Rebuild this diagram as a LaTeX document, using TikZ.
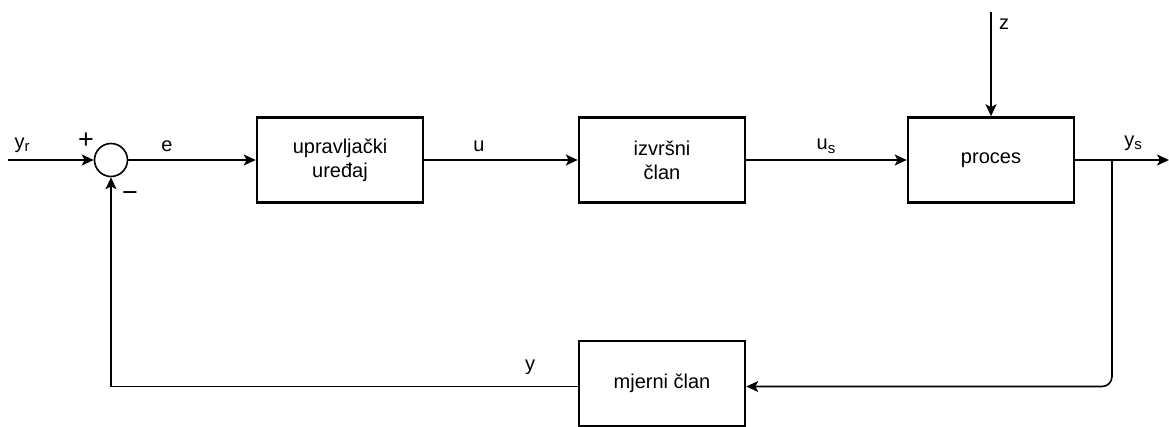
\documentclass[tikz,border=0pt]{standalone}
\usepackage{fontspec}
\setmainfont{Liberation Sans}
\usetikzlibrary{arrows.meta}
\newcommand{\lowidx}[2]{#1\raisebox{-0.35ex}{\fontsize{15}{15}\selectfont #2}}
\begin{document}
\begin{tikzpicture}[x=1pt,y=-1pt,
  font=\fontsize{20}{24}\selectfont,
  block/.style={draw,line width=2.6pt,minimum width=166pt,minimum height=85pt,align=center,inner sep=0pt},
  sumnode/.style={draw,circle,line width=1.6pt,minimum size=33pt,inner sep=0pt},
  sig/.style={line width=1.6pt,-{Stealth[length=12pt,width=11pt,inset=3pt]}},
  lbl/.style={inner sep=0pt},
  sgn/.style={inner sep=0pt,font=\fontsize{27}{27}\selectfont}]
\useasboundingbox (0,0) rectangle (1169,427);
\node[sumnode](sum)at(111,160){};
\node[block](ctrl)at(340,160){upravljački\\uređaj};
\node[block](act)at(662,160){izvršni\\član};
\node[block](proc)at(991,160){proces};
\node[block](meas)at(662,383.5){mjerni član};
\coordinate(yrin)at(8,160);
\coordinate(out)at(1169,160);
\coordinate(tap)at(1112,160);
\coordinate(zin)at(991,12);
\draw[sig](yrin)--(sum);
\draw[sig](sum)--(ctrl);
\draw[sig](ctrl)--(act);
\draw[sig](act)--(proc);
\draw[sig](proc)--(out);
\draw[sig](zin)--(proc);
\draw[sig,rounded corners=10pt](tap)|-([yshift=-3pt]meas.east);
\draw[sig]([yshift=-3pt]meas.west)-|(sum);
\node[lbl](yr)at(22,145){\lowidx{y}{r}};
\node[sgn](plus)at(86,141){+};
\node[sgn](minus)at(130,197){−};
\node[lbl](e)at(167,146){e};
\node[lbl](u)at(479,146){u};
\node[lbl](us)at(826,146){\lowidx{u}{s}};
\node[lbl](ys)at(1133,143){\lowidx{y}{s}};
\node[lbl](z)at(1004,24){z};
\node[lbl](y)at(530,367){y};
\end{tikzpicture}
\end{document}
